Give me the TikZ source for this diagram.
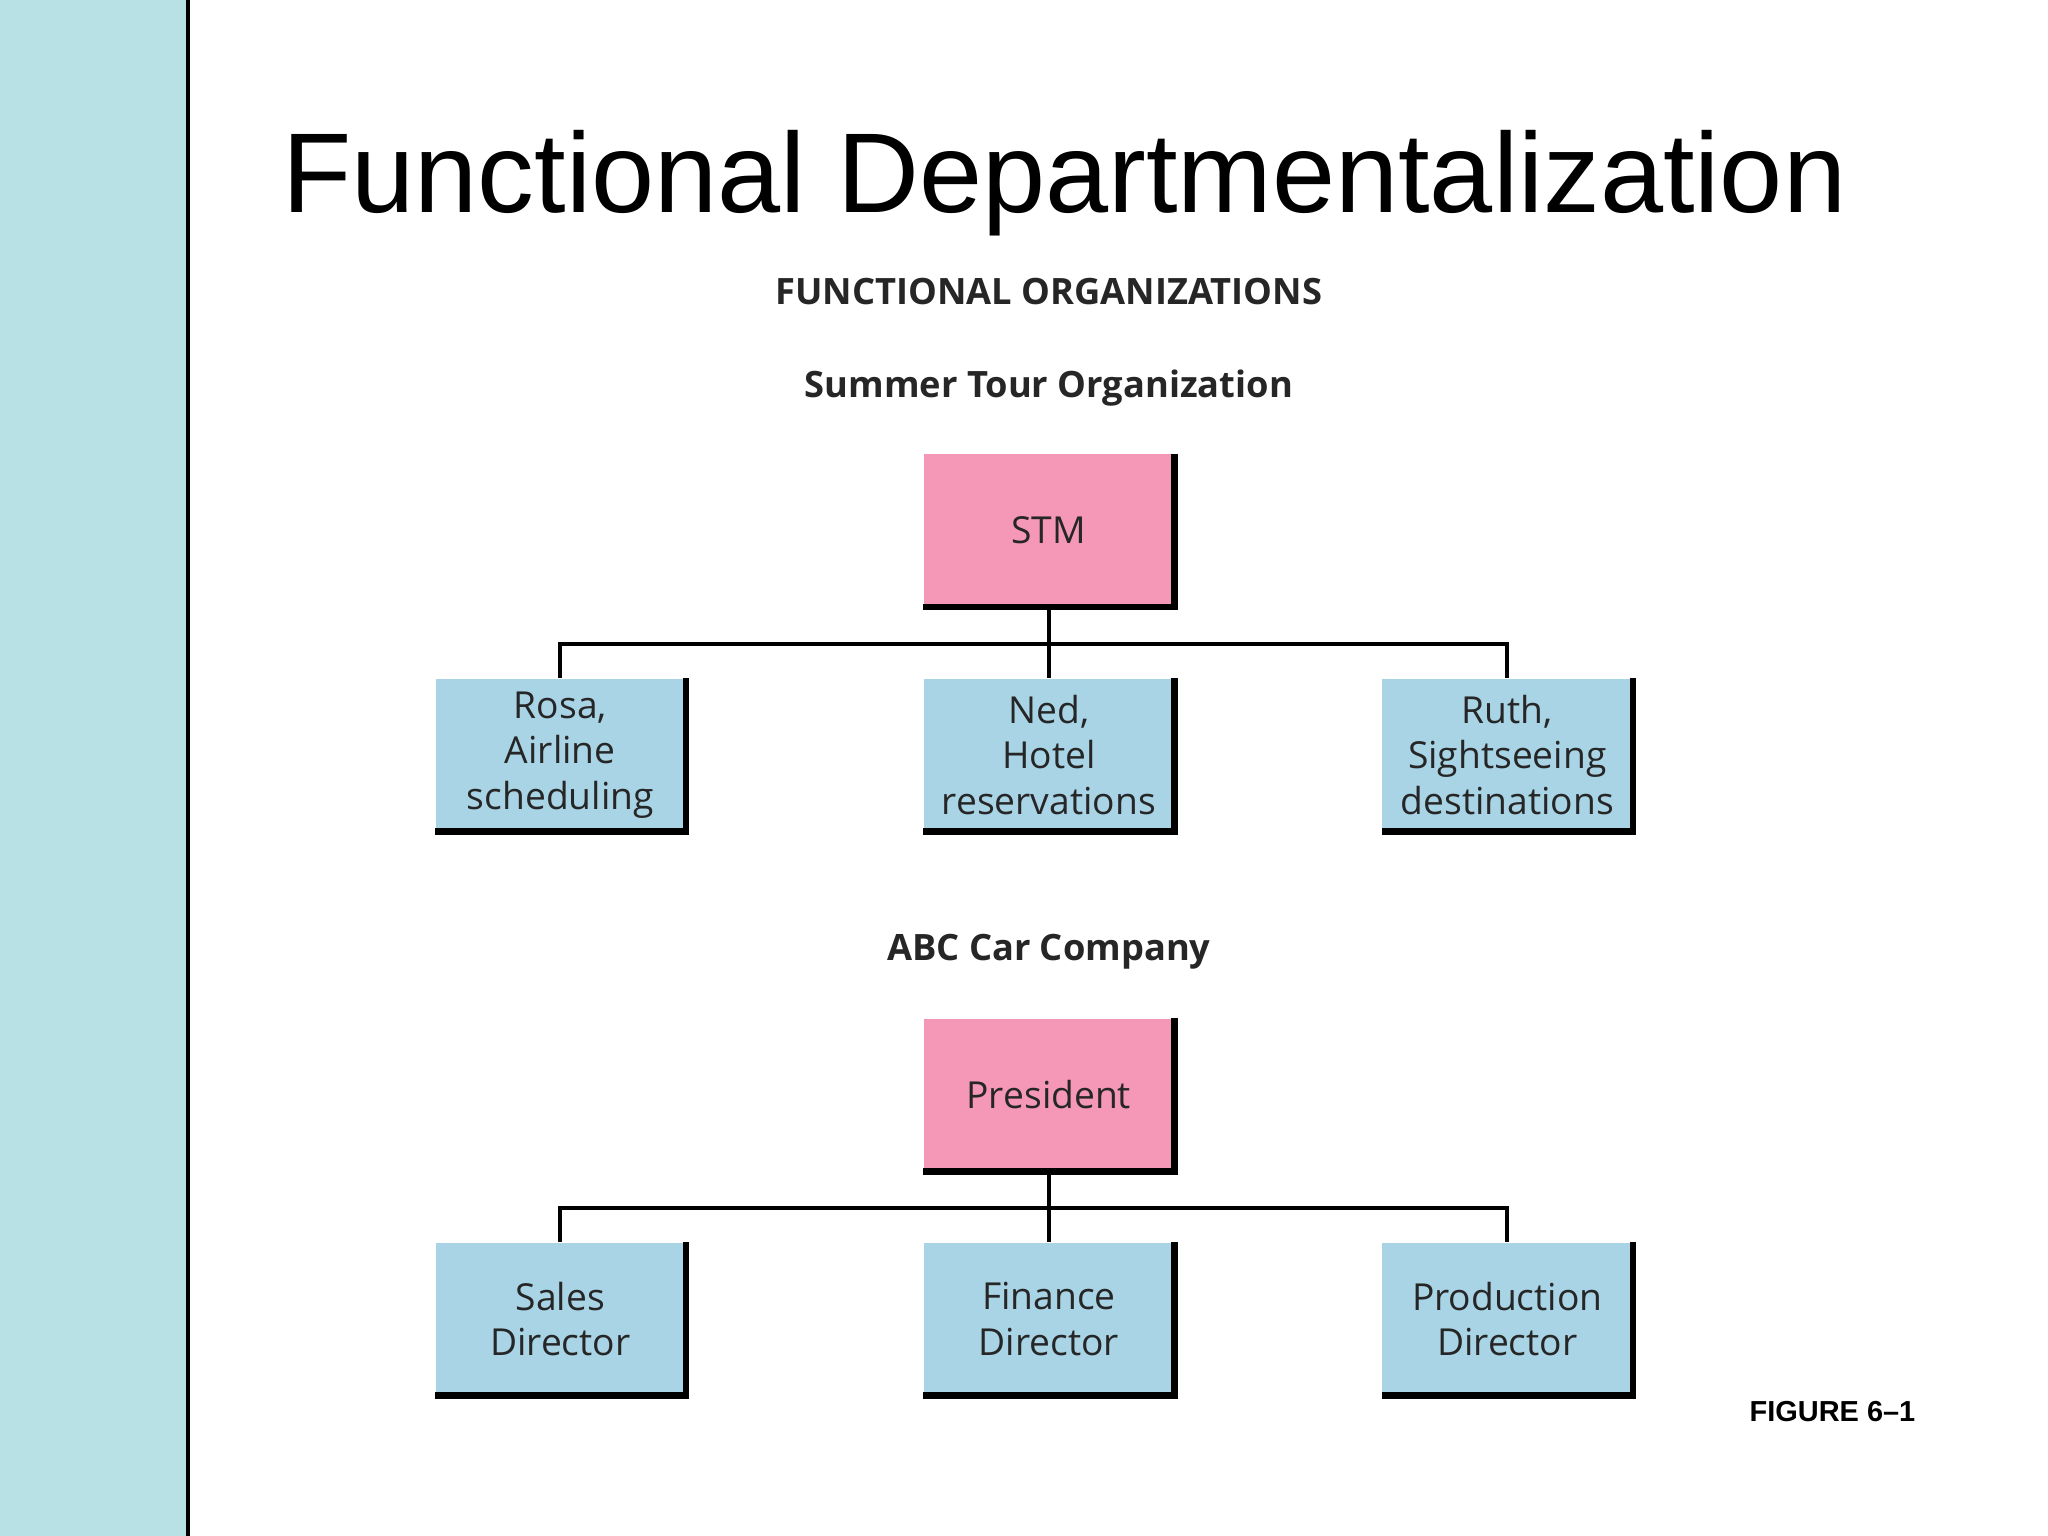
\documentclass[tikz,border=0pt]{standalone}
\usepackage{fontspec}
\setmainfont{Open Sans}
\newfontfamily\arialfont{Liberation Sans}
\definecolor{stripcol}{HTML}{B8E1E5}
\definecolor{bosscol}{HTML}{F598B8}
\definecolor{staffcol}{HTML}{A8D4E6}
\tikzset{
  box/.style={minimum width=1.91cm, minimum height=1.16cm, inner sep=0pt, align=center,
    font=\fontsize{8.1pt}{9.9pt}\selectfont, text=black!85},
  boss/.style={box, fill=bosscol},
  staff/.style={box, fill=staffcol},
  heading/.style={font=\bfseries\fontsize{7.9pt}{9pt}\selectfont, text=black!85}
}
\begin{document}
\begin{tikzpicture}[x=0.01cm, y=-0.01cm]
  \useasboundingbox (0,0) rectangle (1568,1176);
  \fill[white] (0,0) rectangle (1568,1176);
  \fill[stripcol] (0,0) rectangle (144,1176);
  \draw[line width=0.8pt] (144,0) -- (144,1176);
  \node (title) at (815,140) {\arialfont\fontsize{24.7pt}{27pt}\selectfont Functional Departmentalization};
  \node[heading] (fo) at (803,223) {FUNCTIONAL ORGANIZATIONS};
  \node[heading] (sto) at (803,297) {Summer Tour Organization};
  \node[heading] (abc) at (803,729) {ABC Car Company};
  \node (fig) at (1403,1081) {\arialfont\bfseries\fontsize{6.3pt}{7pt}\selectfont FIGURE 6\textendash 1};
  % summer tour
  \node[boss] (stm) at (803,406) {STM};
  \node[staff] (rosa) at (429,578) {Rosa,\\Airline\\scheduling};
  \node[staff] (ned) at (803,578) {Ned,\\Hotel\\reservations};
  \node[staff] (ruth) at (1154,578) {Ruth,\\Sightseeing\\destinations};
  % car company
  \node[boss] (pres) at (803,838) {President};
  \node[staff] (sales) at (429,1010) {Sales\\Director};
  \node[staff] (fin) at (803,1010) {Finance\\Director};
  \node[staff] (prod) at (1154,1010) {Production\\Director};
  \foreach \n in {stm,rosa,ned,ruth,pres,sales,fin,prod}
    \draw[line width=1.5pt] (\n.north east) -- (\n.south east) -- (\n.south west);
  \draw[line width=0.8pt] (stm.south) -- (ned.north);
  \draw[line width=0.8pt] (rosa.north) |- (803,493) -| (ruth.north);
  \draw[line width=0.8pt] (pres.south) -- (fin.north);
  \draw[line width=0.8pt] (sales.north) |- (803,925) -| (prod.north);
\end{tikzpicture}
\end{document}
